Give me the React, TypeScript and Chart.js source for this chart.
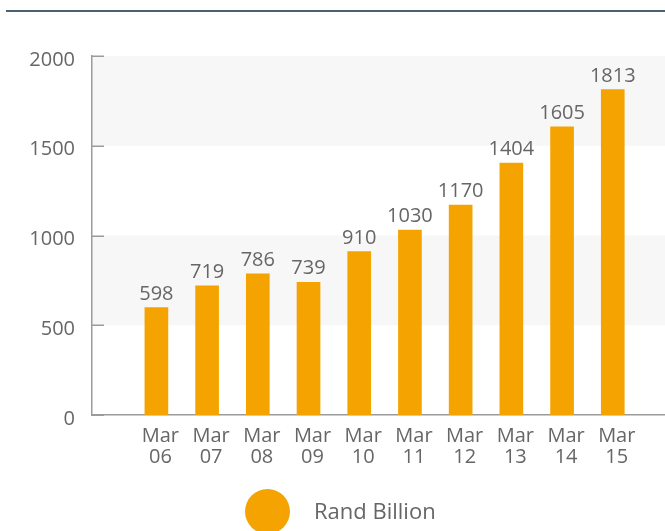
import React, { useEffect, useRef } from 'react';
import { Chart, registerables } from 'chart.js';

Chart.register(...registerables);

const categories = ['Mar 06', 'Mar 07', 'Mar 08', 'Mar 09', 'Mar 10', 'Mar 11', 'Mar 12', 'Mar 13', 'Mar 14', 'Mar 15'];
const values = [598, 719, 786, 739, 910, 1030, 1170, 1404, 1605, 1813];
const yTicks = [0, 500, 1000, 1500, 2000];
const bands = [[500, 1000], [1500, 2000]];
const seriesLabel = 'Rand Billion';

const FONT = "'Open Sans', sans-serif";
const TEXT = '#666666';
const BAR = '#F5A300';
const AXIS = '#9b9b9b';
const BAND = '#f7f7f7';

const bandsPlugin = {
  id: 'bands',
  beforeDraw(chart: any) {
    const { ctx, chartArea, scales } = chart;
    const y = scales.y;
    ctx.save();
    ctx.fillStyle = BAND;
    bands.forEach(([lo, hi]) => {
      const t = y.getPixelForValue(hi);
      const b = y.getPixelForValue(lo);
      ctx.fillRect(chartArea.left, t, chartArea.right - chartArea.left, b - t);
    });
    ctx.restore();
  },
};

const innerTicksPlugin = {
  id: 'innerTicks',
  afterDraw(chart: any) {
    const { ctx, chartArea, scales } = chart;
    const y = scales.y;
    ctx.save();
    ctx.strokeStyle = AXIS;
    ctx.lineWidth = 1.5;
    yTicks.forEach((v) => {
      const py = Math.round(y.getPixelForValue(v)) + 0.25;
      ctx.beginPath();
      ctx.moveTo(chartArea.left, py);
      ctx.lineTo(chartArea.left + 12, py);
      ctx.stroke();
    });
    ctx.restore();
  },
};

const valueLabelsPlugin = {
  id: 'valueLabels',
  afterDatasetsDraw(chart: any) {
    const { ctx } = chart;
    const meta = chart.getDatasetMeta(0);
    ctx.save();
    ctx.fillStyle = TEXT;
    ctx.font = `20px ${FONT}`;
    ctx.textAlign = 'center';
    ctx.textBaseline = 'alphabetic';
    meta.data.forEach((bar: any, i: number) => {
      ctx.fillText(String(values[i]), bar.x, bar.y - 8);
    });
    ctx.restore();
  },
};

function BarChart() {
  const ref = useRef<HTMLCanvasElement | null>(null);
  useEffect(() => {
    if (!ref.current) return;
    const chart = new Chart(ref.current, {
      type: 'bar',
      data: {
        datasets: [
          {
            label: seriesLabel,
            data: values.map((v, i) => ({ x: i, y: v })),
            backgroundColor: BAR,
            barThickness: 23,
          },
        ],
      },
      options: {
        responsive: false,
        animation: false,
        devicePixelRatio: 1,
        layout: { padding: { top: 56, left: 0, right: 0, bottom: 0 } },
        plugins: {
          legend: { display: false },
          tooltip: { enabled: false },
        },
        scales: {
          x: {
            type: 'linear',
            offset: false,
            min: -1.27,
            max: 10.03,
            grid: { display: false, drawTicks: false, offset: false },
            border: { display: true, color: AXIS, width: 1.5 },
            afterBuildTicks: (s: any) => {
              s.ticks = categories.map((_, i) => ({ value: i }));
            },
            afterFit: (s: any) => {
              s.height = 116;
            },
            ticks: {
              autoSkip: false,
              maxRotation: 0,
              minRotation: 0,
              padding: 11,
              labelOffset: 4,
              color: TEXT,
              font: { family: FONT, size: 20, lineHeight: 1.03 },
              callback: (v: any) => {
                const c = categories[Math.round(Number(v))];
                return c ? c.split(' ') : '';
              },
            },
          },
          y: {
            min: 0,
            max: 2000,
            grid: { display: false, drawTicks: false },
            border: { display: true, color: AXIS, width: 1.5 },
            afterBuildTicks: (s: any) => {
              s.ticks = yTicks.map((v) => ({ value: v }));
            },
            afterFit: (s: any) => {
              s.width = 92;
            },
            ticks: {
              padding: 17,
              labelOffset: 4,
              color: TEXT,
              font: { family: FONT, size: 20 },
              callback: (v: any) => String(v),
            },
          },
        },
      },
      plugins: [bandsPlugin, innerTicksPlugin, valueLabelsPlugin],
    });
    return () => chart.destroy();
  }, []);
  return <canvas ref={ref} width={665} height={531} style={{ position: 'absolute', left: 0, top: 0, display: 'block' }} />;
}

export default function App() {
  return (
    <div style={{ position: 'fixed', left: 0, top: 0, width: 665, height: 531, overflow: 'hidden', background: '#fff' }}>
      <BarChart />
      <div style={{ position: 'absolute', left: 6, top: 10, width: 659, height: 2, background: '#4a6073' }} />
      <div
        style={{
          position: 'absolute',
          left: 245,
          top: 489,
          width: 45,
          height: 45,
          borderRadius: '50%',
          background: BAR,
        }}
      />
      <div
        style={{
          position: 'absolute',
          left: 314,
          top: 488,
          height: 45,
          lineHeight: '45px',
          fontFamily: FONT,
          fontSize: 22,
          color: TEXT,
          whiteSpace: 'nowrap',
        }}
      >
        {seriesLabel}
      </div>
    </div>
  );
}
